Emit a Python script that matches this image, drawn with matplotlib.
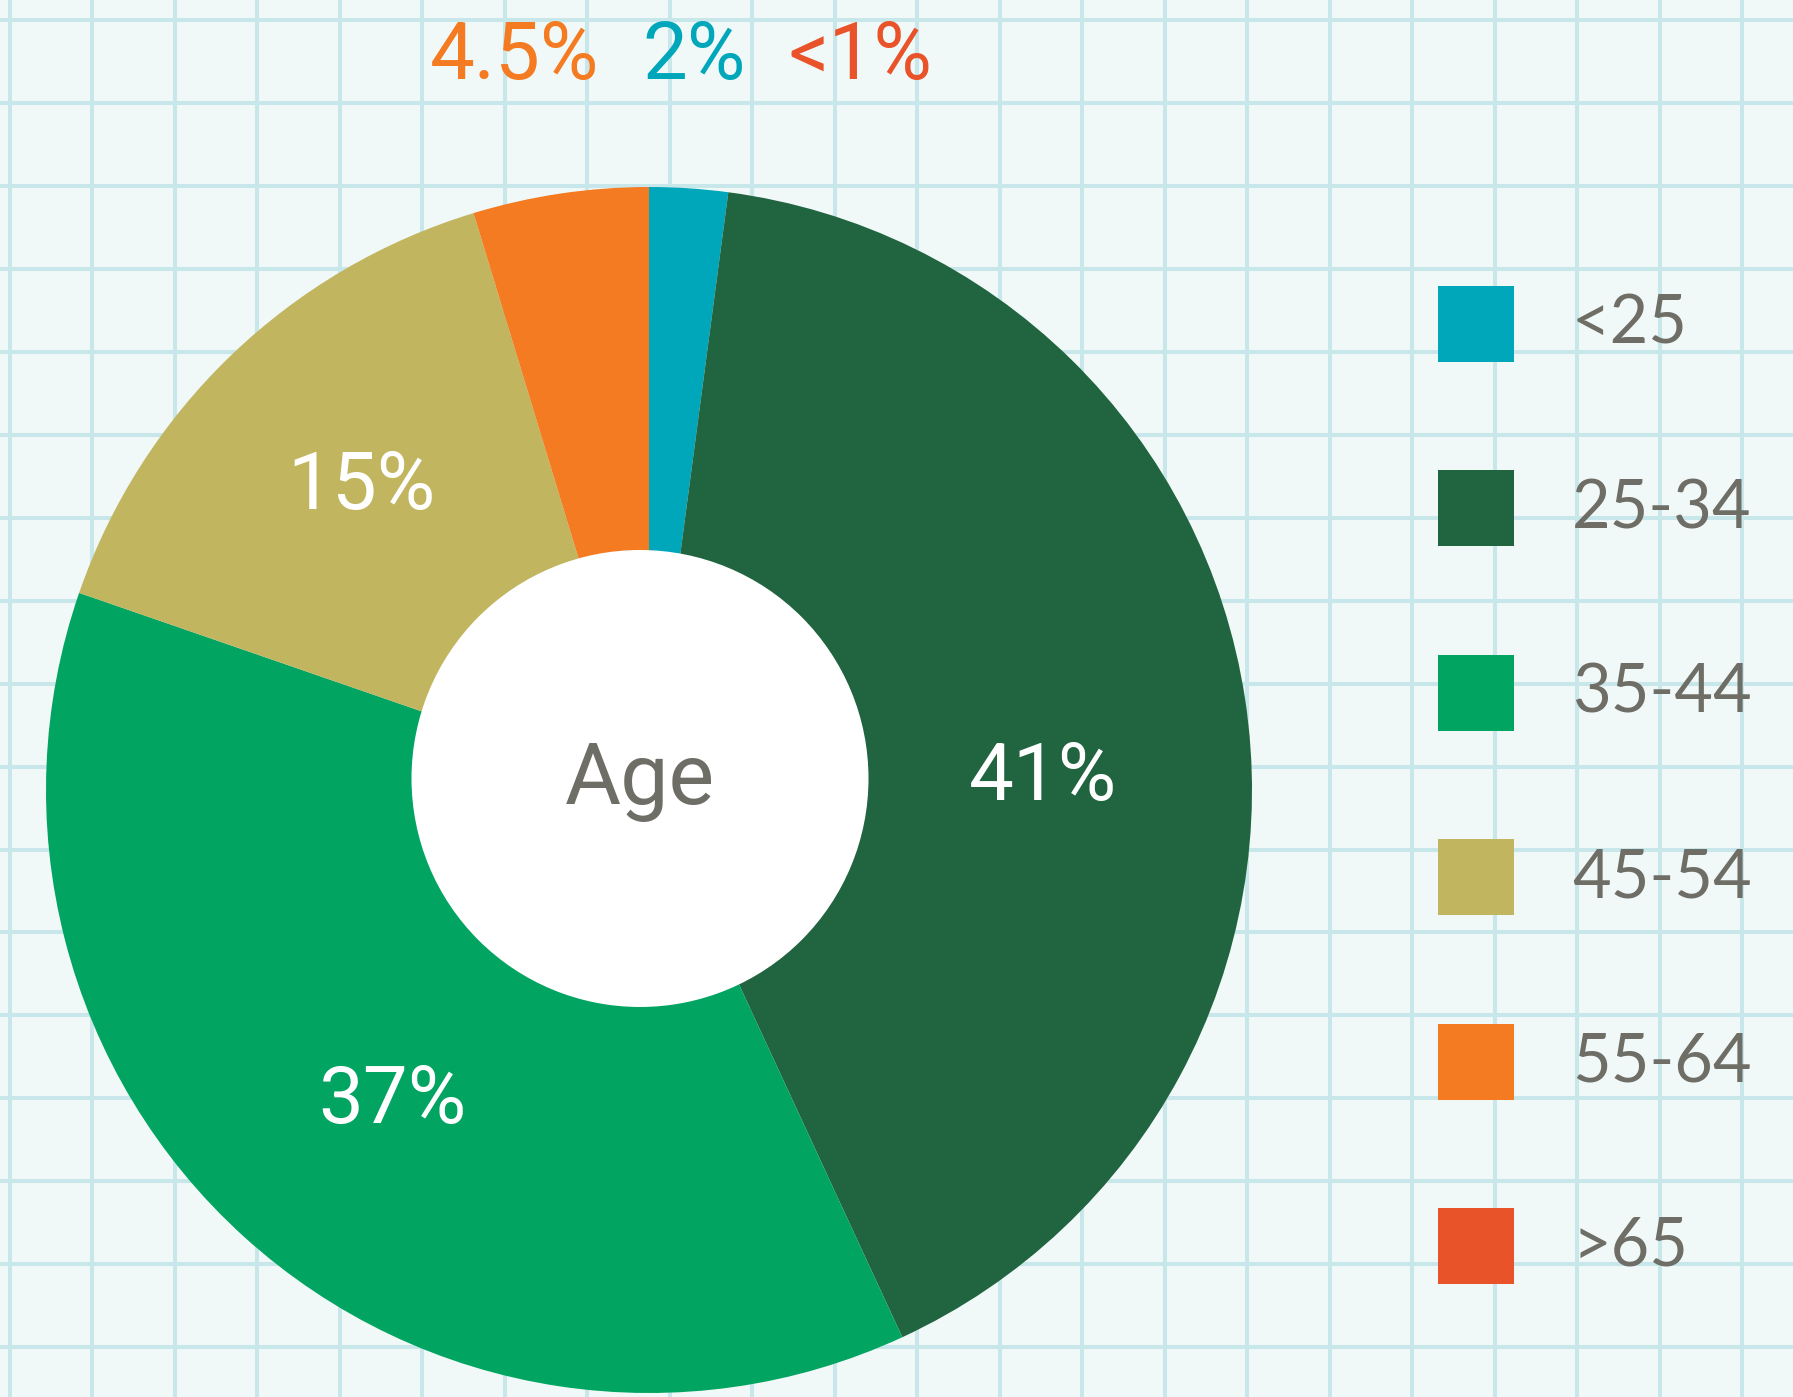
import matplotlib
matplotlib.use("Agg")
import matplotlib.pyplot as plt
from matplotlib.patches import Circle, Rectangle
import numpy as np

categories = ["<25", "25-34", "35-44", "45-54", "55-64", ">65"]
shares = [2.1, 41, 37.2, 15, 4.7, 0]
colors = ["#00A6BA", "#206440", "#02A461", "#C2B560", "#F47B22", "#E9532A"]
wedge_labels = ["", "41%", "37%", "15%", "", ""]
top_labels = ["4.5%", "2%", "<1%"]
top_label_colors = ["#F47B22", "#00A6BA", "#E9532A"]
center_text = "Age"

# ---- layout (pixels, y measured from top) ----
W, H = 1793, 1397
BG = "#F0F9F8"
GRID = "#C8E7EA"
GREY = "#6E6D66"

fig = plt.figure(figsize=(W / 100, H / 100), dpi=100, facecolor=BG)
ax = fig.add_axes([0, 0, 1, 1])
ax.set_facecolor(BG)

def Y(y):
    return H - y

# grid
for x in np.arange(10, W, 82.48):
    ax.axvline(x, color=GRID, lw=2.9, zorder=0)
for y in np.arange(20, H, 82.95):
    ax.axhline(Y(y), color=GRID, lw=2.9, zorder=0)

# pie
cx, cy, R = 649, 790, 603
wedges, _ = ax.pie(shares, colors=colors, startangle=90, counterclock=False,
                   center=(cx, Y(cy)), radius=R, frame=False,
                   wedgeprops=dict(linewidth=0, antialiased=True))
for w in wedges:
    w.set_zorder(2)

# inner white hole (slightly offset as in the reference)
ax.add_patch(Circle((640, Y(778.5)), 228.5, facecolor="white", edgecolor="none", zorder=3))
ax.text(640, Y(804), center_text, ha="center", va="baseline", fontsize=62,
        family="Roboto", color=GREY, zorder=4)

# wedge percentage labels
label_pos = {"41%": (1043, 800), "37%": (392, 1123), "15%": (361, 509)}
for lab in wedge_labels:
    if lab:
        x, yb = label_pos[lab]
        ax.text(x, Y(yb), lab, ha="center", va="baseline", fontsize=57.5,
                family="Roboto", color="white", zorder=4)

# small-share labels at top
top_x = [515, 694, 860]
for lab, c, x in zip(top_labels, top_label_colors, top_x):
    ax.text(x, Y(79), lab, ha="center", va="baseline", fontsize=57.5,
            family="Roboto", color=c, zorder=4)

# legend
sq_x, sq_top0, sq = 1438, 286, 76
step = 184.4
for i, (cat, c) in enumerate(zip(categories, colors)):
    top = sq_top0 + i * step
    ax.add_patch(Rectangle((sq_x, Y(top + sq)), sq, sq, facecolor=c,
                           edgecolor="none", zorder=4))
    ax.text(1572, Y(344 + i * step), cat, ha="left", va="baseline",
            fontsize=48, family="Lato", color=GREY, zorder=4)

ax.set_xlim(0, W)
ax.set_ylim(0, H)
ax.set_aspect("auto")
ax.axis("off")

fig.savefig("out.png", dpi=100, facecolor=BG)
